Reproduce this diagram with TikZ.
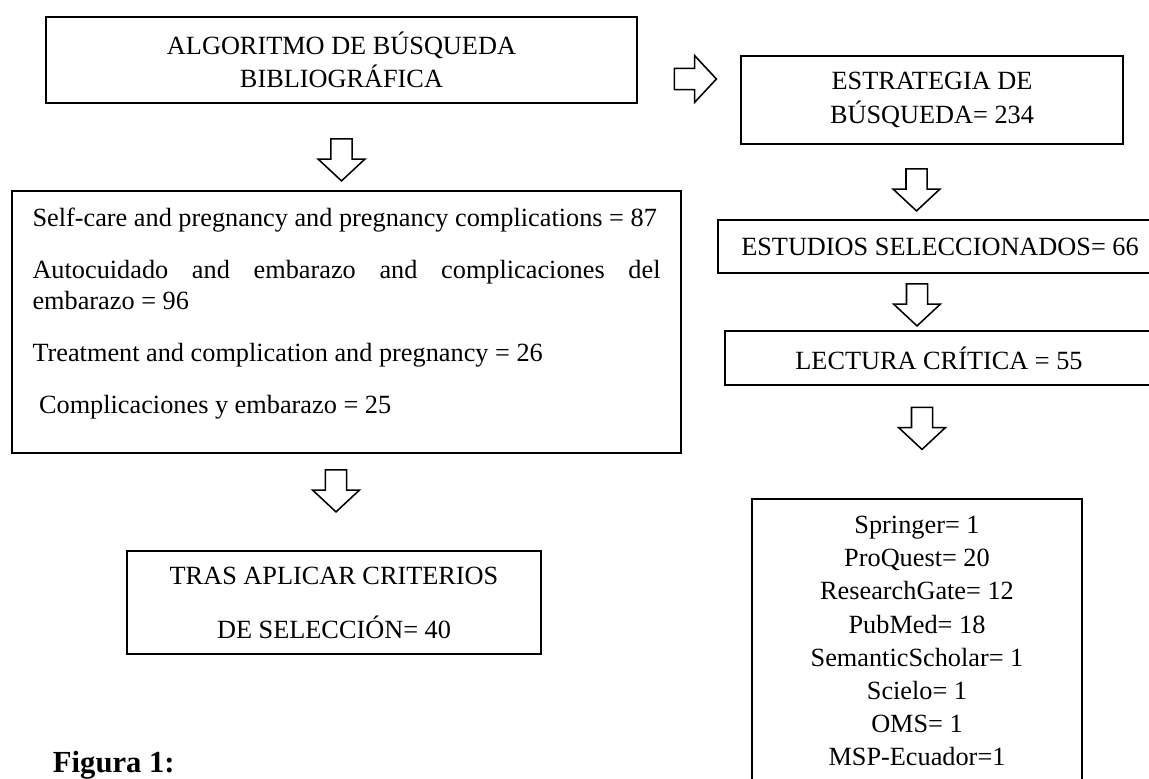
\documentclass[tikz,border=0pt]{standalone}
\usepackage{fontspec}
\setmainfont{Liberation Serif}
\usepackage{tikz}
\usetikzlibrary{positioning}
\usetikzlibrary{shapes.arrows}

\begin{document}
\begin{tikzpicture}[font=\fontsize{18.7pt}{23.6pt}\selectfont,
  box/.style={draw, line width=0.8pt, align=center, inner sep=0pt},
  flecha/.style={single arrow, draw, line width=1.1pt, minimum height=1.05cm, minimum width=1.125cm,
    inner xsep=0.1cm, inner ysep=0.244cm, single arrow head extend=0.32cm, single arrow tip angle=94}]

\useasboundingbox (0,0) rectangle (28.725,19.45);

% Left column
\node[box, line width=1.6pt, minimum width=14.775cm, minimum height=2.15cm] (algo) at (8.5375,17.95) {ALGORITMO DE BÚSQUEDA\\BIBLIOGRÁFICA};
\node[flecha, rotate=-90] (f1) at (8.5375,15.575) {};

\node[box, minimum width=16.725cm, minimum height=6.55cm, inner xsep=0.5125cm, text width=15.7cm, align=justify, font=\fontsize{18.7pt}{22.05pt}\selectfont] (claves) at (8.6625,11.4) {\hyphenpenalty=10000\exhyphenpenalty=10000\setlength{\parskip}{14.94pt}Self-care and pregnancy and pregnancy complications = 87\par
Autocuidado and embarazo and complicaciones del embarazo = 96\par
Treatment and complication and pregnancy = 26\par
\hspace*{0.25em}Complicaciones y embarazo = 25\rule[-0.55cm]{0pt}{0pt}};
\node[flecha, rotate=-90] (f5) at (8.4,7.3) {};

\node[box, line width=1.1pt, minimum width=10.35cm, minimum height=2.575cm] (tras) at (8.35,4.3875) {TRAS APLICAR CRITERIOS\\[14.8pt]DE SELECCIÓN= 40};

\node[anchor=base west, font=\fontsize{21.8pt}{26pt}\selectfont\bfseries] (fig) at (1.2,0.15) {Figura 1:};

% Right column
\node[flecha] (f0) at (17.2625,17.475) {};
\node[box, minimum width=9.55cm, minimum height=2.2cm] (estr) at (23.3,16.95) {ESTRATEGIA DE\\BÚSQUEDA= 234};
\node[flecha, rotate=-90] (f2) at (22.9125,14.825) {};

\node[box, minimum width=11.1cm, minimum height=1.325cm] (estud) at (23.5,13.2875) {ESTUDIOS SELECCIONADOS= 66};
\node[flecha, rotate=-90] (f3) at (22.925,11.95) {};

\node[box, minimum width=10.7cm, minimum height=1.35cm] (lect) at (23.475,10.5) {LECTURA CRÍTICA = 55};
\node[flecha, rotate=-90] (f4) at (23.05,8.8625) {};

\node[box, line width=1.6pt, anchor=north, minimum width=8.25cm, inner ysep=0.425cm] (bases) at (22.925,7.0) {Springer= 1\\ProQuest= 20\\ResearchGate= 12\\PubMed= 18\\SemanticScholar= 1\\Scielo= 1\\OMS= 1\\MSP-Ecuador=1\rule[-1cm]{0pt}{0pt}};

\end{tikzpicture}
\end{document}
